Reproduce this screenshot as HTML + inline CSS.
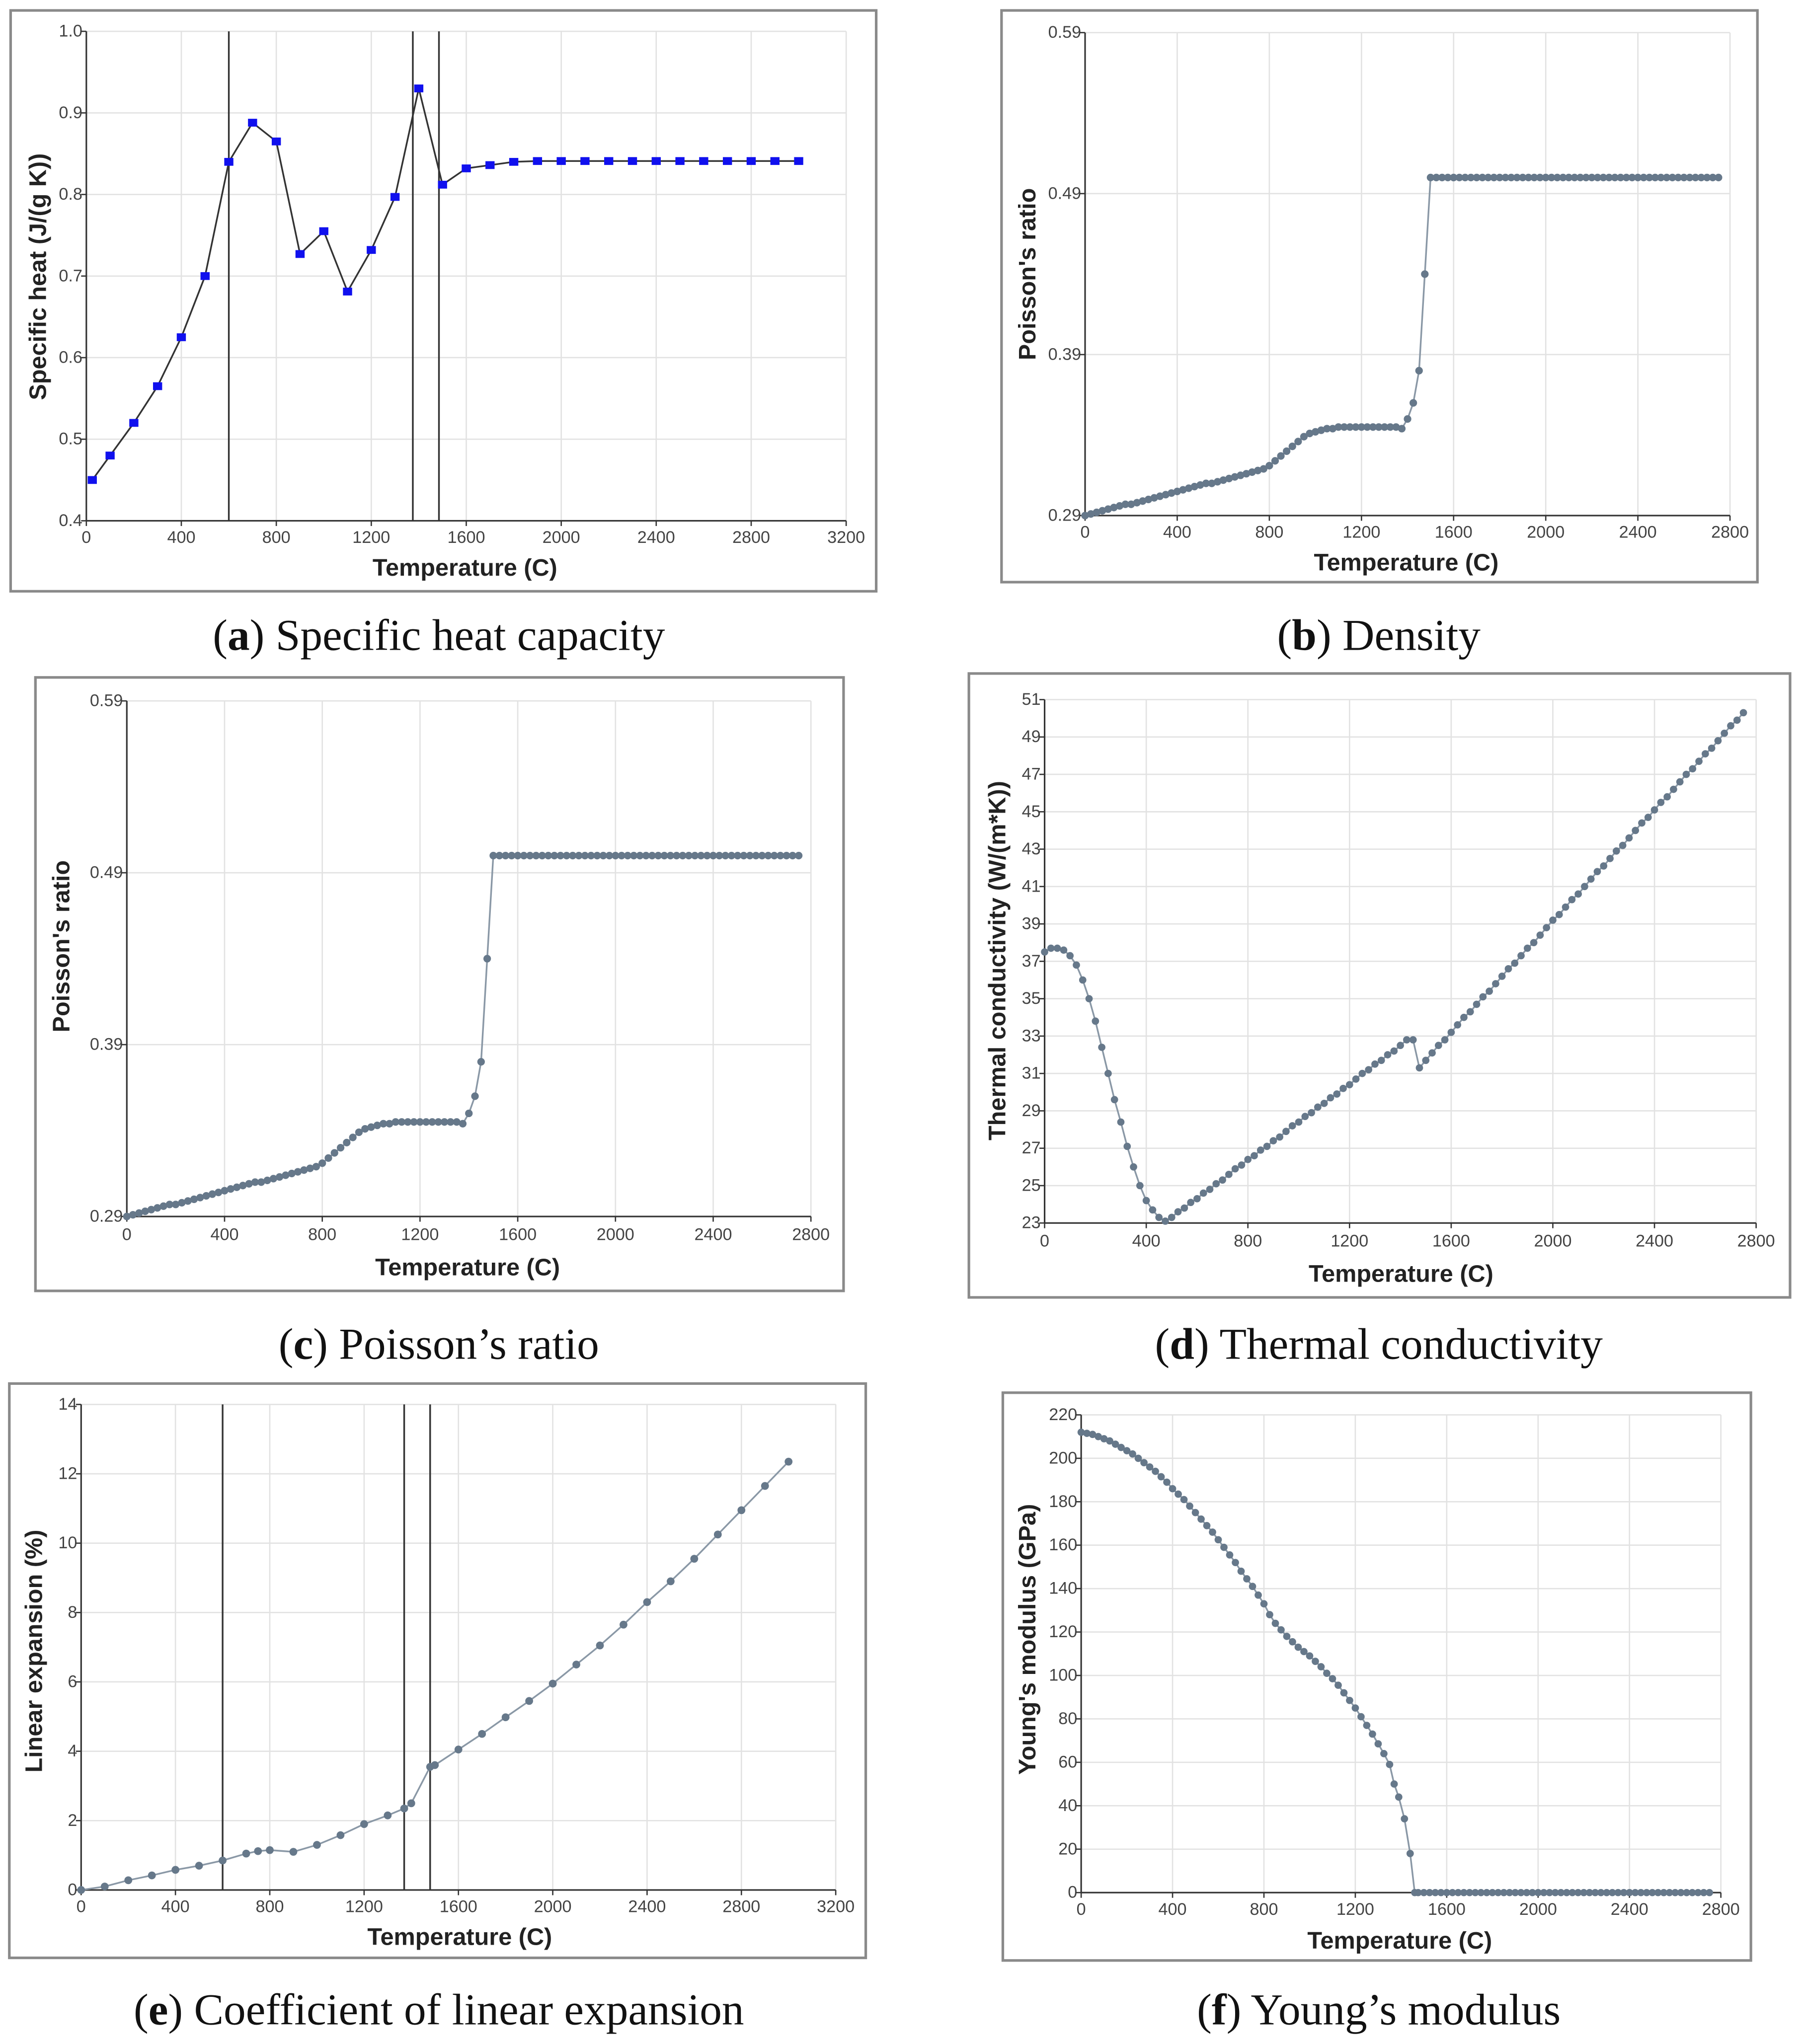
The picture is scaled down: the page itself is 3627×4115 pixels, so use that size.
<!DOCTYPE html>
<html><head><meta charset="utf-8">
<style>
html,body{margin:0;padding:0;background:#fff;}
svg{display:block;}
.tick{font-family:"Liberation Sans",sans-serif;font-size:13px;fill:#444;}
.atitle{font-family:"Liberation Sans",sans-serif;font-size:18.5px;font-weight:bold;fill:#222;}
.cap{font-family:"Liberation Serif",serif;font-size:34px;fill:#111;}
</style></head>
<body>
<svg id="fig" width="3627" height="4115" viewBox="0 0 1380 1566" xmlns="http://www.w3.org/2000/svg">
<text class="cap" x="336" y="498" text-anchor="middle">(<tspan font-weight="bold">a</tspan>) Specific heat capacity</text>
<text class="cap" x="1056" y="498" text-anchor="middle">(<tspan font-weight="bold">b</tspan>) Density</text>
<text class="cap" x="336" y="1041" text-anchor="middle">(<tspan font-weight="bold">c</tspan>) Poisson’s ratio</text>
<text class="cap" x="1056" y="1041" text-anchor="middle">(<tspan font-weight="bold">d</tspan>) Thermal conductivity</text>
<text class="cap" x="336" y="1551" text-anchor="middle">(<tspan font-weight="bold">e</tspan>) Coefficient of linear expansion</text>
<text class="cap" x="1056" y="1551" text-anchor="middle">(<tspan font-weight="bold">f</tspan>) Young’s modulus</text>
</svg>
<script>
// ---- data ----
const tempsA = [25,100,200,300,400,500,600,700,800,900,1000,1100,1200,1300,1400,1500,1600,1700,1800,1900,2000,2100,2200,2300,2400,2500,2600,2700,2800,2900,3000];
const heatA = [0.45,0.48,0.52,0.565,0.625,0.70,0.84,0.888,0.865,0.727,0.755,0.681,0.732,0.797,0.93,0.812,0.832,0.836,0.84,0.841,0.841,0.841,0.841,0.841,0.841,0.841,0.841,0.841,0.841,0.841,0.841];
const xTicks3200 = [0,400,800,1200,1600,2000,2400,2800,3200];
const xTicks2800 = [0,400,800,1200,1600,2000,2400,2800];
const yTicksA = [0.4,0.5,0.6,0.7,0.8,0.9,1.0];
const yLabelsA = ["0.4","0.5","0.6","0.7","0.8","0.9","1.0"];
const vlinesA = [600,1375,1485];

const tempsPoisson = [0,25,50,75,100,125,150,175,200,225,250,275,300,325,350,375,400,425,450,475,500,525,550,575,600,625,650,675,700,725,750,775,800,825,850,875,900,925,950,975,1000,1025,1050,1075,1100,1125,1150,1175,1200,1225,1250,1275,1300,1325,1350,1375,1400,1425,1450,1475,1500,1525,1550,1575,1600,1625,1650,1675,1700,1725,1750,1775,1800,1825,1850,1875,1900,1925,1950,1975,2000,2025,2050,2075,2100,2125,2150,2175,2200,2225,2250,2275,2300,2325,2350,2375,2400,2425,2450,2475,2500,2525,2550,2575,2600,2625,2650,2675,2700,2725,2750];
const poisson = [0.290,0.291,0.292,0.293,0.294,0.295,0.296,0.297,0.297,0.298,0.299,0.300,0.301,0.302,0.303,0.304,0.305,0.306,0.307,0.308,0.309,0.310,0.310,0.311,0.312,0.313,0.314,0.315,0.316,0.317,0.318,0.319,0.321,0.324,0.327,0.330,0.333,0.336,0.339,0.341,0.342,0.343,0.344,0.344,0.345,0.345,0.345,0.345,0.345,0.345,0.345,0.345,0.345,0.345,0.345,0.344,0.350,0.360,0.380,0.440,0.500,0.500,0.500,0.500,0.500,0.500,0.500,0.500,0.500,0.500,0.500,0.500,0.500,0.500,0.500,0.500,0.500,0.500,0.500,0.500,0.500,0.500,0.500,0.500,0.500,0.500,0.500,0.500,0.500,0.500,0.500,0.500,0.500,0.500,0.500,0.500,0.500,0.500,0.500,0.500,0.500,0.500,0.500,0.500,0.500,0.500,0.500,0.500,0.500,0.500,0.500];
const yTicksP = [0.29,0.39,0.49,0.59];
const yLabelsP = ["0.29","0.39","0.49","0.59"];

const tempsD = [0,25,50,75,100,125,150,175,200,225,250,275,300,325,350,375,400,425,450,475,500,525,550,575,600,625,650,675,700,725,750,775,800,825,850,875,900,925,950,975,1000,1025,1050,1075,1100,1125,1150,1175,1200,1225,1250,1275,1300,1325,1350,1375,1400,1425,1450,1475,1500,1525,1550,1575,1600,1625,1650,1675,1700,1725,1750,1775,1800,1825,1850,1875,1900,1925,1950,1975,2000,2025,2050,2075,2100,2125,2150,2175,2200,2225,2250,2275,2300,2325,2350,2375,2400,2425,2450,2475,2500,2525,2550,2575,2600,2625,2650,2675,2700,2725,2750];
const conductivity = [37.5,37.7,37.7,37.6,37.3,36.8,36.0,35.0,33.8,32.4,31.0,29.6,28.4,27.1,26.0,25.0,24.2,23.7,23.3,23.1,23.3,23.6,23.8,24.1,24.3,24.6,24.8,25.1,25.3,25.6,25.9,26.1,26.4,26.6,26.9,27.1,27.4,27.6,27.9,28.2,28.4,28.7,28.9,29.2,29.4,29.7,29.9,30.2,30.4,30.7,31.0,31.2,31.5,31.7,32.0,32.2,32.5,32.8,32.8,31.3,31.7,32.1,32.5,32.8,33.2,33.6,34.0,34.3,34.7,35.1,35.4,35.8,36.2,36.6,36.9,37.3,37.7,38.0,38.4,38.8,39.2,39.5,39.9,40.3,40.6,41.0,41.4,41.8,42.1,42.5,42.9,43.2,43.6,44.0,44.4,44.7,45.1,45.5,45.8,46.2,46.6,47.0,47.3,47.7,48.1,48.4,48.8,49.2,49.6,49.9,50.3];
const yTicksD = [23,25,27,29,31,33,35,37,39,41,43,45,47,49,51];

const tempsE = [0,100,200,300,400,500,600,700,750,800,900,1000,1100,1200,1300,1370,1400,1480,1500,1600,1700,1800,1900,2000,2100,2200,2300,2400,2500,2600,2700,2800,2900,3000];
const expansion = [0,0.1,0.28,0.42,0.58,0.7,0.85,1.05,1.12,1.15,1.1,1.3,1.58,1.9,2.15,2.35,2.5,3.55,3.6,4.05,4.5,4.98,5.45,5.95,6.5,7.05,7.65,8.3,8.9,9.55,10.25,10.95,11.65,12.35];
const yTicksE = [0,2,4,6,8,10,12,14];
const vlinesE = [600,1370,1480];

const tempsF = [0,25,50,75,100,125,150,175,200,225,250,275,300,325,350,375,400,425,450,475,500,525,550,575,600,625,650,675,700,725,750,775,800,825,850,875,900,925,950,975,1000,1025,1050,1075,1100,1125,1150,1175,1200,1225,1250,1275,1300,1325,1350,1370,1390,1415,1440,1460,1475,1500,1525,1550,1575,1600,1625,1650,1675,1700,1725,1750,1775,1800,1825,1850,1875,1900,1925,1950,1975,2000,2025,2050,2075,2100,2125,2150,2175,2200,2225,2250,2275,2300,2325,2350,2375,2400,2425,2450,2475,2500,2525,2550,2575,2600,2625,2650,2675,2700,2725,2750];
const modulus = [212,211.5,211,210,209,208,206.5,205,203.5,202,200,198,196,194,191.5,189,186,183.5,181,178,175,172,169,166,162.5,159,155.5,152,148,144.5,141,137,133,128,124,121,118,115.5,113,111,109,106.5,104,101,98.5,95.5,92,88.5,85,81,77,73,68.5,64,59,50,44,34,18,0,0,0,0,0,0,0,0,0,0,0,0,0,0,0,0,0,0,0,0,0,0,0,0,0,0,0,0,0,0,0,0,0,0,0,0,0,0,0,0,0,0,0,0,0,0,0,0,0,0,0,0,0,0];
const yTicksF = [0,20,40,60,80,100,120,140,160,180,200,220];

// ---- drawing ----
const NS = "http://www.w3.org/2000/svg";
const svg = document.getElementById('fig');
function mk(tag, parent, attrs){
  const e = document.createElementNS(NS, tag);
  for (const k in attrs) e.setAttribute(k, attrs[k]);
  parent.appendChild(e);
  return e;
}

function chart(c){
  const g = mk('g', svg, {});
  
  
  const frame = mk('rect', g, {x:c.fx, y:c.fy, width:c.fw, height:c.fh, fill:'#fff', stroke:'#8a8a8a', 'stroke-width':2});
  
  
  const xs = v => c.x0 + (v - 0) / (c.xmax - 0) * (c.x1 - c.x0);
  const ys = v => c.y0 - (v - c.ymin) / (c.ymax - c.ymin) * (c.y0 - c.y1);
  c.xticks.forEach(t => {
    if (t > 0) {
      const l = mk('line', g, {x1:xs(t), x2:xs(t), y1:c.y1, y2:c.y0, stroke:'#e2e2e2', 'stroke-width':1});
      
      
    }
    const tx = mk('text', g, {x:xs(t), y:c.tickY, 'text-anchor':'middle', class:'tick'});
    tx.textContent = String(t);
    
    
    const tk = mk('line', g, {x1:xs(t), x2:xs(t), y1:c.y0, y2:c.y0+4, stroke:'#333', 'stroke-width':1});
    
    
  });
  c.yticks.forEach((t, i) => {
    if (i > 0) {
      const l = mk('line', g, {x1:c.x0, x2:c.x1, y1:ys(t), y2:ys(t), stroke:'#e2e2e2', 'stroke-width':1});
      
      
    }
    const tx = mk('text', g, {x:c.x0-3, y:ys(t)+4, 'text-anchor':'end', class:'tick'});
    tx.textContent = c.ylabels ? c.ylabels[i] : String(t);
    
    
    const tk = mk('line', g, {x1:c.x0-4, x2:c.x0, y1:ys(t), y2:ys(t), stroke:'#333', 'stroke-width':1});
    
    
  });
  const ax = mk('line', g, {x1:c.x0, x2:c.x1, y1:c.y0, y2:c.y0, stroke:'#333', 'stroke-width':1.2});
  
  
  const ay = mk('line', g, {x1:c.x0, x2:c.x0, y1:c.y0, y2:c.y1, stroke:'#333', 'stroke-width':1.2});
  
  
  (c.vlines || []).forEach(v => {
    const l = mk('line', g, {x1:xs(v), x2:xs(v), y1:c.y1, y2:c.y0, stroke:'#333', 'stroke-width':1.3});
    
    
  });
  const idx = c.xs.map((t, i) => i).filter(i => c.ys[i] !== undefined);
  const pts = idx.map(i => xs(c.xs[i]).toFixed(2) + ',' + ys(c.ys[i]).toFixed(2)).join(' ');
  const pl = mk('polyline', g, {points:pts, fill:'none', stroke:c.lineColor, 'stroke-width':1.3});
  
  
  idx.forEach(i => {
    const t = c.xs[i];
    let m;
    if (c.square) {
      m = mk('rect', g, {x:xs(t)-3.5, y:ys(c.ys[i])-3, width:7, height:6, fill:c.markColor});
    } else {
      m = mk('circle', g, {cx:xs(t), cy:ys(c.ys[i]), r:c.r, fill:c.markColor});
    }
    
    
  });
  const xt = mk('text', g, {x:c.xtX, y:c.xtY, 'text-anchor':'middle', class:'atitle'});
  xt.textContent = 'Temperature (C)';
  
  
  const yt = mk('text', g, {x:0, y:0, 'text-anchor':'middle', class:'atitle', transform:'translate(' + c.ytX + ',' + c.ytY + ') rotate(-90)'});
  yt.textContent = c.ylabel;
  
  
}

chart({name:'chart-specific-heat', fx:8, fy:8, fw:663, fh:445, x0:66, x1:648, y0:399, y1:24, xmax:3200, ymin:0.4, ymax:1.0,
  xticks:xTicks3200, yticks:yTicksA, ylabels:yLabelsA, vlines:vlinesA, xs:tempsA, ys:heatA, lineColor:'#333', markColor:'#1010ee', square:true,
  tickY:416, xtX:356, xtY:441, ytX:35, ytY:212, ylabel:'Specific heat (J/(g K))'});
chart({name:'chart-density', fx:767, fy:8, fw:579, fh:438, x0:831, x1:1325, y0:395, y1:25, xmax:2800, ymin:0.29, ymax:0.59,
  xticks:xTicks2800, yticks:yTicksP, ylabels:yLabelsP, xs:tempsPoisson, ys:poisson, lineColor:'#8a98a6', markColor:'#66788a', r:2.9,
  tickY:412, xtX:1077, xtY:437, ytX:793, ytY:210, ylabel:"Poisson's ratio"});
chart({name:'chart-poisson', fx:27, fy:519, fw:619, fh:470, x0:97, x1:621, y0:932, y1:537, xmax:2800, ymin:0.29, ymax:0.59,
  xticks:xTicks2800, yticks:yTicksP, ylabels:yLabelsP, xs:tempsPoisson, ys:poisson, lineColor:'#8a98a6', markColor:'#66788a', r:2.9,
  tickY:950, xtX:358, xtY:977, ytX:53, ytY:725, ylabel:"Poisson's ratio"});
chart({name:'chart-thermal-conductivity', fx:742, fy:516, fw:629, fh:478, x0:800, x1:1345, y0:937, y1:536, xmax:2800, ymin:23, ymax:51,
  xticks:xTicks2800, yticks:yTicksD, xs:tempsD, ys:conductivity, lineColor:'#8a98a6', markColor:'#66788a', r:2.8,
  tickY:955, xtX:1073, xtY:982, ytX:770, ytY:736, ylabel:'Thermal conductivity (W/(m*K))'});
chart({name:'chart-linear-expansion', fx:7, fy:1060, fw:656, fh:440, x0:62, x1:640, y0:1448, y1:1076, xmax:3200, ymin:0, ymax:14,
  xticks:xTicks3200, yticks:yTicksE, vlines:vlinesE, xs:tempsE, ys:expansion, lineColor:'#8a98a6', markColor:'#66788a', r:3,
  tickY:1465, xtX:352, xtY:1490, ytX:32, ytY:1265, ylabel:'Linear expansion (%)'});
chart({name:'chart-youngs-modulus', fx:768, fy:1067, fw:573, fh:435, x0:828, x1:1318, y0:1450, y1:1084, xmax:2800, ymin:0, ymax:220,
  xticks:xTicks2800, yticks:yTicksF, xs:tempsF, ys:modulus, lineColor:'#8a98a6', markColor:'#66788a', r:2.8,
  tickY:1467, xtX:1072, xtY:1493, ytX:793, ytY:1256, ylabel:"Young's modulus (GPa)"});
</script>
</body></html>
